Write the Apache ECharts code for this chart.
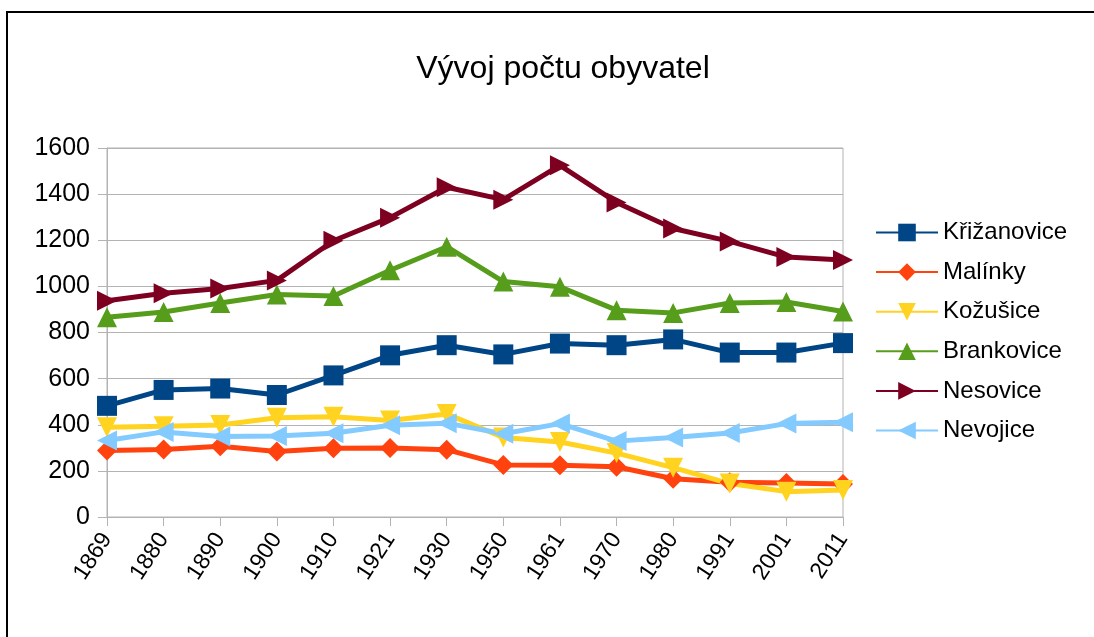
<!DOCTYPE html>
<html>
<head>
<meta charset="utf-8">
<title>Vývoj počtu obyvatel</title>
<script src="https://cdn.jsdelivr.net/npm/echarts@6/dist/echarts.min.js"></script>
<style>
html, body { margin: 0; padding: 0; background: #fff; }
#main { width: 1094px; height: 637px; }
</style>
</head>
<body>
<div id="main"></div>
<script>
// roky sčítání
var years = ['1869', '1880', '1890', '1900', '1910', '1921', '1930', '1950', '1961', '1970', '1980', '1991', '2001', '2011'];

// počty obyvatel
var krizanovice = [482, 551, 557, 529, 614, 701, 745, 705, 752, 745, 770, 713, 713, 754];
var malinky = [288, 293, 307, 284, 298, 299, 292, 226, 224, 218, 166, 151, 147, 143];
var kozusice = [389, 393, 399, 430, 435, 418, 447, 345, 325, 277, 214, 145, 110, 117];
var brankovice = [866, 889, 928, 965, 958, 1070, 1172, 1021, 998, 897, 885, 928, 932, 891];
var nesovice = [938, 970, 991, 1026, 1198, 1298, 1430, 1376, 1525, 1364, 1251, 1195, 1127, 1114];
var nevojice = [332, 369, 349, 351, 363, 398, 407, 361, 405, 329, 345, 364, 405, 411];

var yTicks = [0, 200, 400, 600, 800, 1000, 1200, 1400, 1600];

var myChart = echarts.init(document.getElementById('main'));

function serie(name, data, color, symbol) {
    return {
        name: name,
        type: 'line',
        data: data,
        symbol: symbol,
        symbolSize: 20,
        lineStyle: { width: 5, color: color },
        itemStyle: { color: color },
        emphasis: { disabled: true },
        animation: false
    };
}

var option = {
    backgroundColor: '#fff',
    textStyle: { fontFamily: 'Liberation Sans' },
    title: {
        text: 'Vývoj počtu obyvatel',
        left: 558,
        textAlign: 'center',
        top: 48,
        textStyle: { fontSize: 32, fontWeight: 'normal', color: '#000', fontFamily: 'Liberation Sans' }
    },
    graphic: [{
        type: 'rect',
        shape: { x: 7, y: 12, width: 1200, height: 700 },
        style: { fill: 'none', stroke: '#000', lineWidth: 2 },
        silent: true
    }],
    legend: {
        orient: 'vertical',
        left: 870,
        top: 215,
        itemWidth: 62,
        itemHeight: 22,
        itemGap: 14.6,
        textStyle: { fontSize: 24, lineHeight: 25, color: '#000', fontFamily: 'Liberation Sans', padding: [0, 0, 0, 0] },
        data: ['Křižanovice', 'Malínky', 'Kožušice', 'Brankovice', 'Nesovice', 'Nevojice']
    },
    grid: {
        left: 107,
        right: 251,
        top: 148,
        bottom: 120,
        show: true,
        borderColor: '#b3b3b3',
        borderWidth: 1,
        backgroundColor: 'transparent'
    },
    xAxis: {
        type: 'category',
        data: years,
        boundaryGap: false,
        axisLine: { lineStyle: { color: '#b3b3b3', width: 1 } },
        axisTick: { show: true, length: 9, alignWithLabel: true, lineStyle: { color: '#b3b3b3' } },
        axisLabel: { rotate: 57, fontSize: 23, color: '#000', margin: 18, interval: 0, fontFamily: 'Liberation Sans' },
        splitLine: { show: false }
    },
    yAxis: {
        type: 'value',
        min: yTicks[0],
        max: yTicks[yTicks.length - 1],
        interval: 200,
        axisLine: { show: true, lineStyle: { color: '#b3b3b3', width: 1 } },
        axisTick: { show: true, length: 9, lineStyle: { color: '#b3b3b3' } },
        axisLabel: {
            fontSize: 25, color: '#000', margin: 17, fontFamily: 'Liberation Sans',
            formatter: function (v) { return String(v); }
        },
        splitLine: { show: true, lineStyle: { color: '#b3b3b3', width: 1 } }
    },
    series: [
        serie('Křižanovice', krizanovice, '#004586', 'rect'),
        serie('Malínky', malinky, '#ff420e', 'diamond'),
        serie('Kožušice', kozusice, '#ffd320', 'path://M0,0 L10,0 L5,9 Z'),
        serie('Brankovice', brankovice, '#579d1c', 'path://M5,0 L10,9 L0,9 Z'),
        serie('Nesovice', nesovice, '#7e0021', 'path://M0,0 L9,5 L0,10 Z'),
        serie('Nevojice', nevojice, '#83caff', 'path://M9,0 L0,5 L9,10 Z')
    ]
};
myChart.setOption(option);
</script>
</body>
</html>
